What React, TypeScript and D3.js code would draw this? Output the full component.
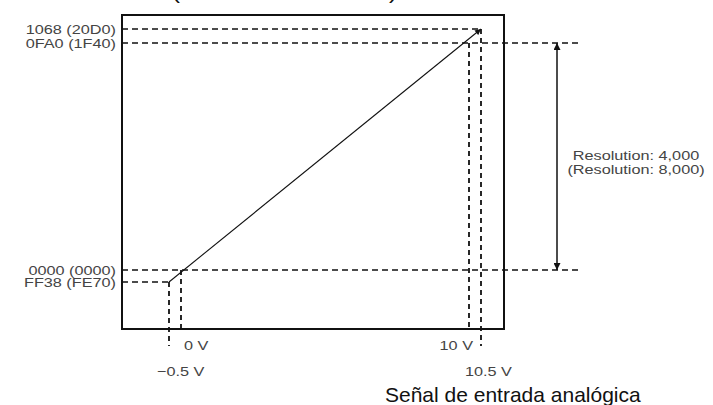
import React from 'react';
import * as d3 from 'd3';

// input voltage ticks (V) and their labels
const voltTicks = [-0.5, 0, 10, 10.5];
const voltLabels = ['\u22120.5 V', '0 V', '10 V', '10.5 V'];

// converted values (decimal, resolution 4000) and hex labels
const codeTicks = [-200, 0, 4000, 4200];
const codeLabels = ['FF38 (FE70)', '0000 (0000)', '0FA0 (1F40)', '1068 (20D0)'];

// conversion line end points [V, value]
const conversion: [number, number][] = [
  [-0.5, -200],
  [10.5, 4200],
];

const resolutionLabels = ['Resolution: 4,000', '(Resolution: 8,000)'];
const xTitle = 'Se\u00f1al de entrada anal\u00f3gica';
const yTitle = '(Valor de conversi\u00f3n)';

const W = 713;
const H = 405;
const box = { left: 122, top: 15, right: 504, bottom: 329 };
const FONT = "'Liberation Sans', Arial, sans-serif";
const STRETCH = 1.25; // labels in the original are drawn wide

export default function App() {
  // not to scale in the original: the over-range parts are drawn a bit wider
  const x = d3.scaleLinear().domain(voltTicks).range([169, 181, 469, 481]);
  const y = d3.scaleLinear().domain(codeTicks).range([282, 270, 43, 29]);
  const line = d3
    .line<[number, number]>()
    .x((d) => x(d[0]))
    .y((d) => y(d[1]));

  const resX = 557; // resolution arrow
  const extEnd = 582; // right end of the 0 / 0FA0 guides
  const belowBox = 346;

  const hEnd = (v: number) =>
    v === codeTicks[0] ? x(voltTicks[0]) : v === codeTicks[3] ? x(voltTicks[3]) : extEnd;
  const vEnd = (v: number, i: number) => (i === 0 || i === 3 ? belowBox : box.bottom);
  const vStart = (i: number) => y(codeTicks[i]);

  const label = (txt: string, tx: number, ty: number, anchor: string, key: string) => (
    <g key={key} transform={`translate(${tx},${ty}) scale(${STRETCH},1)`}>
      <text textAnchor={anchor} fontSize={13} fill="#444" fontFamily={FONT}>
        {txt}
      </text>
    </g>
  );

  const voltPos = [
    { dx: -12, dy: 376, anchor: 'start' },
    { dx: 3, dy: 350, anchor: 'start' },
    { dx: 4, dy: 350, anchor: 'end' },
    { dx: -16, dy: 376, anchor: 'start' },
  ];

  return (
    <svg
      width={W}
      height={H}
      style={{ position: 'absolute', left: 0, top: 0, background: '#fff' }}
    >
      <defs>
        <marker id="arr" viewBox="0 0 10 10" refX="10" refY="5" markerWidth="7" markerHeight="6" orient="auto-start-reverse" markerUnits="userSpaceOnUse">
          <path d="M0,0 L10,5 L0,10 Z" fill="#111" />
        </marker>
        <marker id="arr2" viewBox="0 0 10 10" refX="10" refY="5" markerWidth="8" markerHeight="7" orient="auto-start-reverse" markerUnits="userSpaceOnUse">
          <path d="M0,0 L10,5 L0,10 Z" fill="#111" />
        </marker>
      </defs>

      {/* cut-off title at the top */}
      <text x={172} y={-1.5} fontSize={21} fontFamily={FONT} fill="#111" textLength={225} lengthAdjust="spacingAndGlyphs">
        {yTitle}
      </text>

      {/* horizontal guides */}
      {codeTicks.map((v) => (
        <line key={'h' + v} x1={box.left} x2={hEnd(v)} y1={y(v)} y2={y(v)} stroke="#111" strokeWidth={1.6} strokeDasharray="6,4" />
      ))}

      {/* vertical guides */}
      {voltTicks.map((v, i) => (
        <line key={'v' + v} x1={x(v)} x2={x(v)} y1={vStart(i)} y2={vEnd(v, i)} stroke="#111" strokeWidth={1.8} strokeDasharray="5,4" />
      ))}

      {/* frame */}
      <rect x={box.left} y={box.top} width={box.right - box.left} height={box.bottom - box.top} fill="none" stroke="#111" strokeWidth={2} />

      {/* conversion line */}
      <path d={line(conversion) ?? ''} fill="none" stroke="#111" strokeWidth={1.1} markerEnd="url(#arr)" />

      {/* resolution arrow */}
      <line x1={resX} x2={resX} y1={y(codeTicks[2])} y2={y(codeTicks[1])} stroke="#111" strokeWidth={1.5} markerStart="url(#arr2)" markerEnd="url(#arr2)" />

      {/* value labels */}
      {codeTicks.map((v, i) => label(codeLabels[i], 116, y(v) + 4.5, 'end', 'c' + v))}

      {/* voltage labels */}
      {voltTicks.map((v, i) => label(voltLabels[i], x(v) + voltPos[i].dx, voltPos[i].dy, voltPos[i].anchor, 'l' + v))}

      {/* resolution text */}
      {resolutionLabels.map((t, i) => label(t, 636, 159.5 + i * 14, 'middle', 'r' + i))}

      {/* x title */}
      <text x={385} y={401.5} fontSize={21} fontFamily={FONT} fill="#111">
        {xTitle}
      </text>
    </svg>
  );
}
